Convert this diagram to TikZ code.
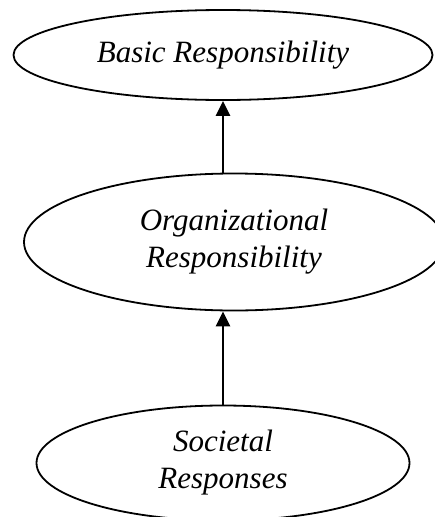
\documentclass[tikz,border=0pt]{standalone}
\usepackage{fontspec}
\setmainfont{Liberation Serif}
\newfontfamily\labelfont{Liberation Serif Italic}
\usetikzlibrary{shapes.geometric,arrows.meta}
\begin{document}
\begin{tikzpicture}[
  x=1pt, y=-1pt,
  level/.style={ellipse, draw, line width=1.8pt, inner sep=0pt,
    align=center, font=\labelfont\fontsize{31}{37}\selectfont},
  uparrow/.style={line width=2.6pt, -{Triangle[length=15pt,width=14pt]}}
]
\useasboundingbox (0,0) rectangle (435,517);
\node[level, minimum width=419pt, minimum height=90pt] (basic) at (223,55) {Basic Responsibility};
\node[level, minimum width=420pt, minimum height=137pt] (org) at (234,242) {Organizational\\Responsibility};
\node[level, minimum width=373pt, minimum height=115pt] (soc) at (223,463) {Societal\\Responses};
\draw[uparrow] (basic.south |- org.north) -- (basic.south);
\draw[uparrow] (soc.north) -- (soc.north |- org.south);
\end{tikzpicture}
\end{document}
